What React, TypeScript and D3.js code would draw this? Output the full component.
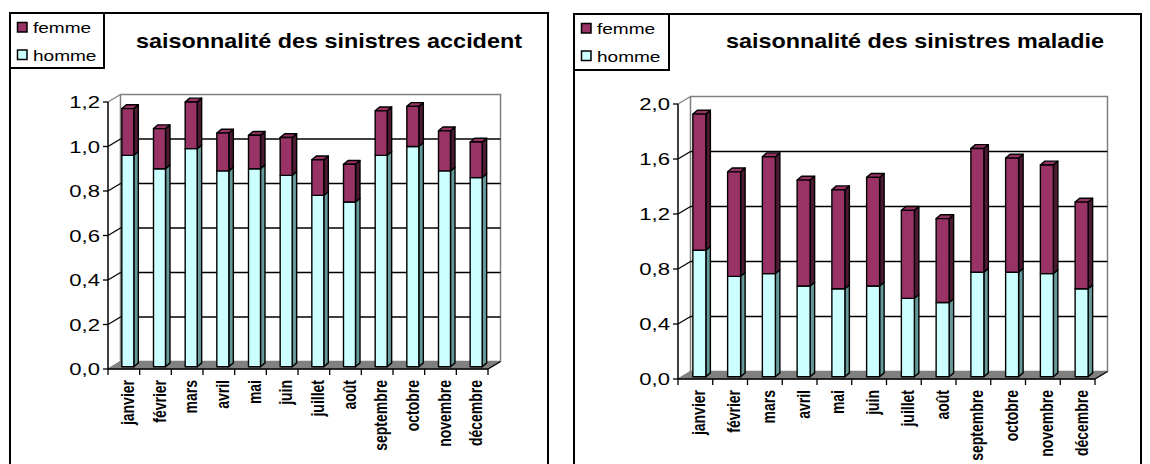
import React from 'react';
import * as d3 from 'd3';

// Monthly claim seasonality, split by sex
const months = [
  'janvier', 'février', 'mars', 'avril', 'mai', 'juin',
  'juillet', 'août', 'septembre', 'octobre', 'novembre', 'décembre',
];

const accidentHomme = [0.95, 0.89, 0.98, 0.88, 0.89, 0.86, 0.77, 0.74, 0.95, 0.99, 0.88, 0.85];
const accidentFemme = [0.21, 0.18, 0.21, 0.17, 0.15, 0.17, 0.16, 0.17, 0.20, 0.18, 0.18, 0.16];

const maladieHomme = [0.92, 0.73, 0.75, 0.66, 0.64, 0.66, 0.57, 0.54, 0.76, 0.76, 0.75, 0.64];
const maladieFemme = [0.99, 0.76, 0.85, 0.77, 0.72, 0.79, 0.64, 0.61, 0.90, 0.83, 0.79, 0.63];

const accidentTicks = [0, 0.2, 0.4, 0.6, 0.8, 1.0, 1.2];
const maladieTicks = [0, 0.4, 0.8, 1.2, 1.6, 2.0];

const seriesNames = ['femme', 'homme'];

const FONT = "'Liberation Sans', Arial, Helvetica, sans-serif";
const COL = {
  hommeFront: '#CCFFFF',
  hommeSide: '#669999',
  femmeFront: '#993366',
  femmeSide: '#4D1933',
  femmeTop: '#993366',
  wall: '#808080',
  floor: '#808080',
};

// oblique projection: back wall offset, bar placement inside the depth, bar thickness
const WALL = { dx: 12.5, dy: -7.5 };
const BAR_SHIFT = { dx: 4, dy: -2.3 };
const BAR_DEPTH = { dx: 4.5, dy: -3.8 };

const fmt = (v: number) => d3.format('.1f')(v).replace('.', ',');

type Txt = {
  x: number; y: number; size: number; sx?: number; weight?: string;
  anchor?: string; children: React.ReactNode;
};
const SText = ({ x, y, size, sx = 1.27, weight = 'normal', anchor = 'start', children }: Txt) => (
  <text
    transform={`translate(${x},${y}) scale(${sx},1)`}
    fontFamily={FONT}
    fontSize={size}
    fontWeight={weight}
    textAnchor={anchor}
    fill="#000"
  >
    {children}
  </text>
);

type ChartProps = {
  frame: { x: number; y: number; w: number; h: number };
  legendBox: { x: number; y: number; w: number; h: number };
  title: string;
  titleX: number;
  titleY: number;
  x0: number; x1: number; yBase: number; yTop: number;
  max: number;
  ticks: number[];
  homme: number[];
  femme: number[];
  barW: number;
};

function Chart3D(p: ChartProps) {
  const band = d3.scaleBand<string>().domain(months).range([p.x0, p.x1]).padding(0);
  const y = d3.scaleLinear().domain([0, p.max]).range([p.yBase, p.yTop]);

  const rows = months.map((m, i) => ({ month: m, homme: p.homme[i], femme: p.femme[i] }));
  const stack = d3.stack<any>().keys(['homme', 'femme'])(rows);

  const bx0 = p.x0 + WALL.dx;
  const bx1 = p.x1 + WALL.dx;
  const yTopBack = p.yTop + WALL.dy;
  const yBaseBack = p.yBase + WALL.dy;

  const poly = (pts: [number, number][]) => pts.map((q) => q.join(',')).join(' ');

  const bars: React.ReactNode[] = [];
  months.forEach((m, i) => {
    const cx = (band(m) as number) + band.bandwidth() / 2 + BAR_SHIFT.dx;
    const xl = cx - p.barW / 2;
    const xr = cx + p.barW / 2;
    stack.forEach((layer, li) => {
      const [v0, v1] = layer[i];
      const yb = y(v0) + BAR_SHIFT.dy;
      const yt = y(v1) + BAR_SHIFT.dy;
      const isHomme = li === 0;
      const front = isHomme ? COL.hommeFront : COL.femmeFront;
      const side = isHomme ? COL.hommeSide : COL.femmeSide;
      const { dx, dy } = BAR_DEPTH;
      bars.push(
        <g key={`${m}-${li}`} stroke="#000" strokeWidth={1.4} strokeLinejoin="round">
          <polygon points={poly([[xr, yb], [xr + dx, yb + dy], [xr + dx, yt + dy], [xr, yt]])} fill={side} />
          {li === stack.length - 1 && (
            <polygon points={poly([[xl, yt], [xl + dx, yt + dy], [xr + dx, yt + dy], [xr, yt]])} fill={COL.femmeTop} />
          )}
          <rect x={xl} y={yt} width={p.barW} height={yb - yt} fill={front} />
        </g>
      );
    });
  });

  return (
    <g>
      {/* back wall */}
      <polygon
        points={poly([[bx0, yBaseBack], [bx0, yTopBack], [bx1, yTopBack], [bx1, yBaseBack]])}
        fill="#fff"
        stroke={COL.wall}
        strokeWidth={1.5}
      />
      {/* grid on back wall and side wall */}
      {p.ticks.map((t) => {
        if (t === 0) return null;
        const isTop = t === p.max;
        const col = isTop ? COL.wall : '#000';
        return (
          <g key={`g${t}`} stroke={col} strokeWidth={1.3}>
            <line x1={p.x0} y1={y(t)} x2={bx0} y2={y(t) + WALL.dy} />
            {!isTop && <line x1={bx0} y1={y(t) + WALL.dy} x2={bx1} y2={y(t) + WALL.dy} />}
          </g>
        );
      })}
      {/* floor */}
      <polygon
        points={poly([[p.x0, p.yBase], [p.x1, p.yBase], [bx1, yBaseBack], [bx0, yBaseBack]])}
        fill={COL.floor}
        stroke={COL.floor}
        strokeWidth={1}
      />
      <line x1={p.x1} y1={p.yBase} x2={bx1} y2={yBaseBack} stroke="#000" strokeWidth={1.3} />
      <line x1={p.x0} y1={p.yBase} x2={bx0} y2={yBaseBack} stroke={COL.wall} strokeWidth={1.3} />

      {bars}

      {/* front axes */}
      <line x1={p.x0} y1={p.yTop} x2={p.x0} y2={p.yBase} stroke="#000" strokeWidth={1.5} />
      <line x1={p.x0} y1={p.yBase} x2={p.x1} y2={p.yBase} stroke="#000" strokeWidth={1.5} />
      {p.ticks.map((t) => (
        <g key={`t${t}`}>
          <line x1={p.x0 - 5} y1={y(t)} x2={p.x0} y2={y(t)} stroke="#000" strokeWidth={1.3} />
          <SText x={p.x0 - 8} y={y(t) + 6} size={17} sx={1.3} anchor="end">{fmt(t)}</SText>
        </g>
      ))}
      {d3.range(months.length + 1).map((i) => {
        const xx = p.x0 + i * band.bandwidth();
        return <line key={`xt${i}`} x1={xx} y1={p.yBase} x2={xx} y2={p.yBase + 6} stroke="#000" strokeWidth={1.3} />;
      })}
      {months.map((m) => {
        const xx = (band(m) as number) + band.bandwidth() / 2 + 10;
        const yy = p.yBase + 11;
        return (
          <text
            key={`xl${m}`}
            transform={`translate(${xx},${yy}) rotate(-90) scale(1,1.3)`}
            fontFamily={FONT}
            fontSize={14}
            fontWeight="bold"
            textAnchor="end"
            fill="#000"
          >
            {m}
          </text>
        );
      })}

      {/* title */}
      <SText x={p.titleX} y={p.titleY} size={20} sx={1.17} weight="bold" anchor="middle">{p.title}</SText>

      {/* chart frame */}
      <rect x={p.frame.x} y={p.frame.y} width={p.frame.w} height={p.frame.h} fill="none" stroke="#000" strokeWidth={2} />

      {/* legend */}
      <rect x={p.legendBox.x} y={p.legendBox.y} width={p.legendBox.w} height={p.legendBox.h} fill="#fff" stroke="#000" strokeWidth={2} />
      {seriesNames.map((s, i) => {
        const ly = p.legendBox.y + 14 + i * 27.5;
        return (
          <g key={s}>
            <rect x={p.legendBox.x + 7.5} y={ly - 4.5} width={9.5} height={9.5}
              fill={s === 'femme' ? COL.femmeFront : COL.hommeFront} stroke="#000" strokeWidth={1.5} />
            <SText x={p.legendBox.x + 23} y={ly + 6} size={15}>{s}</SText>
          </g>
        );
      })}
    </g>
  );
}

export default function App() {
  return (
    <div style={{ position: 'fixed', left: 0, top: 0 }}>
      <svg width={1150} height={464} style={{ display: 'block', background: '#fff' }}>
        <rect width={1150} height={464} fill="#fff" />
        <Chart3D
          frame={{ x: 10, y: 13, w: 538, h: 480 }}
          legendBox={{ x: 10, y: 13, w: 94, h: 55 }}
          title="saisonnalité des sinistres accident"
          titleX={329}
          titleY={47.5}
          x0={108} x1={488} yBase={369} yTop={102}
          max={1.2}
          ticks={accidentTicks}
          homme={accidentHomme}
          femme={accidentFemme}
          barW={12}
        />
        <Chart3D
          frame={{ x: 574, y: 14, w: 567, h: 480 }}
          legendBox={{ x: 574, y: 14, w: 95, h: 56 }}
          title="saisonnalité des sinistres maladie"
          titleX={915}
          titleY={48.3}
          x0={678} x1={1095} yBase={379} yTop={104}
          max={2.0}
          ticks={maladieTicks}
          homme={maladieHomme}
          femme={maladieFemme}
          barW={13}
        />
      </svg>
    </div>
  );
}
